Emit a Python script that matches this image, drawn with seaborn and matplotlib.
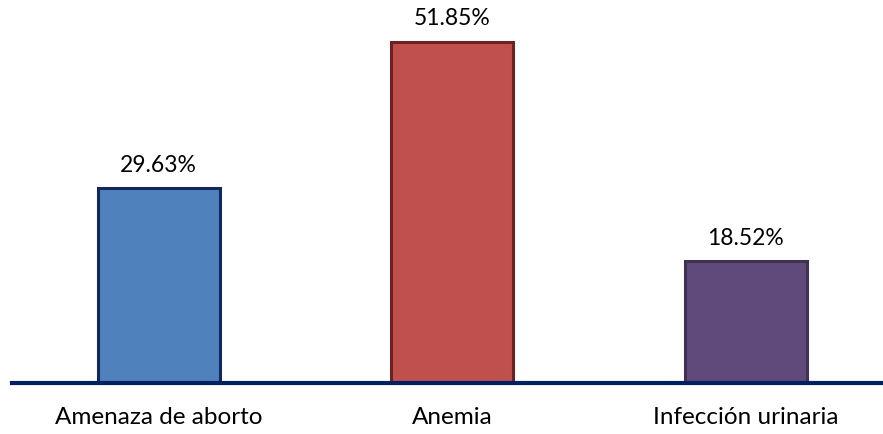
import matplotlib
matplotlib.use("Agg")
import matplotlib.pyplot as plt
import seaborn as sns
import pandas as pd

categories = ["Amenaza de aborto", "Anemia", "Infección urinaria"]
values = [29.63, 51.85, 18.52]
fill_colors = ["#4F81BD", "#C0504D", "#604A7B"]
edge_colors = ["#10295A", "#6A2322", "#3F3151"]

df = pd.DataFrame({"categoria": categories, "porcentaje": values})

sns.set_theme(style="white")
plt.rcParams["font.family"] = ["Lato", "DejaVu Sans"]

fig = plt.figure(figsize=(8.83, 4.34), dpi=100)
ax = fig.add_axes([12 / 883, 51 / 434, 871 / 883, 383 / 434])

sns.barplot(data=df, x="categoria", y="porcentaje", hue="categoria",
            palette=fill_colors, width=0.416, legend=False, ax=ax,
            saturation=1)

for patch, ec in zip(ax.patches, edge_colors):
    patch.set_edgecolor(ec)
    patch.set_linewidth(2.2)

for i, v in enumerate(values):
    ax.annotate(f"{v:.2f}%", xy=(i, v), xytext=(0, 9),
                textcoords="offset points", ha="center", va="bottom",
                fontsize=16.5, color="#000000")

ax.set_xlim(-0.5, 2.467)
ax.set_ylim(0, 58.23)
ax.set_yticks([])
ax.set_xlabel("")
ax.set_ylabel("")
ax.tick_params(axis="x", length=0, pad=17, labelsize=17.5, labelcolor="#000000")

for side in ["top", "right", "left"]:
    ax.spines[side].set_visible(False)
ax.spines["bottom"].set_color("#002060")
ax.spines["bottom"].set_linewidth(3)

fig.savefig("out.png", dpi=100)
